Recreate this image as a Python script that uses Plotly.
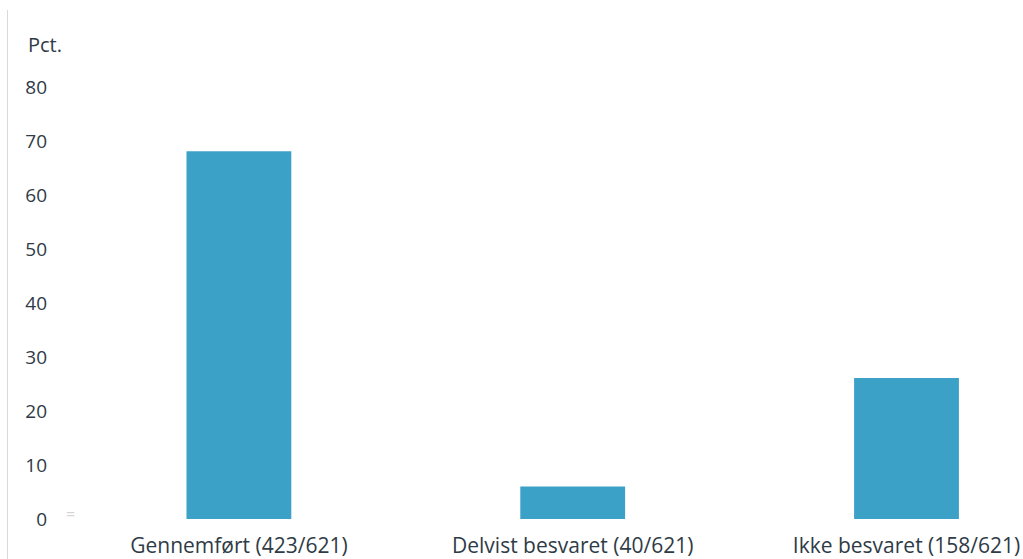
import plotly.graph_objects as go

categories = ["Gennemført (423/621)", "Delvist besvaret (40/621)", "Ikke besvaret (158/621)"]
values = [68.1, 6.0, 26.1]
y_ticks = [0, 10, 20, 30, 40, 50, 60, 70, 80]

font_family = "Open Sans, Lato, sans-serif"
text_color = "#2f3b46"

fig = go.Figure(go.Bar(
    x=list(range(len(categories))),
    y=values,
    width=0.314,
    marker=dict(color="#3BA1C7", line=dict(width=0)),
    hoverinfo="skip",
))

W, H = 1023, 559
ml, mr, mt, mb = 72, 0, 87, 40
fig.update_layout(
    width=W, height=H,
    margin=dict(l=ml, r=mr, t=mt, b=mb, pad=0, autoexpand=False),
    paper_bgcolor="white", plot_bgcolor="white",
    showlegend=False,
    font=dict(family=font_family, size=19, color=text_color),
    xaxis=dict(
        range=[-0.5, 2.349],
        tickmode="array",
        tickvals=list(range(len(categories))),
        ticktext=categories,
        showgrid=False, zeroline=False, showline=False,
        ticks="", ticklabelstandoff=12, automargin=False,
        tickfont=dict(size=21, color=text_color),
    ),
    yaxis=dict(
        range=[0, 80],
        tickmode="array",
        tickvals=y_ticks,
        showgrid=False, zeroline=False, showline=False,
        ticks="", ticklabelstandoff=24, automargin=False,
        tickfont=dict(size=19, color=text_color),
    ),
)

plot_h = H - mt - mb
plot_w = W - ml - mr

def px_to_paper_x(px):
    return (px - ml) / plot_w

def px_to_paper_y(py):
    return (H - mb - py) / plot_h

fig.add_annotation(
    text="Pct.", xref="paper", yref="paper",
    x=px_to_paper_x(26), y=px_to_paper_y(45),
    xanchor="left", yanchor="middle", showarrow=False,
    font=dict(size=20, color=text_color, family=font_family),
)
fig.add_annotation(
    text="=", xref="paper", yref="paper",
    x=px_to_paper_x(70), y=px_to_paper_y(514),
    xanchor="center", yanchor="middle", showarrow=False,
    font=dict(size=16, color="#d6d6d6", family=font_family),
)
fig.add_shape(
    type="line", xref="paper", yref="paper",
    x0=px_to_paper_x(7.5), x1=px_to_paper_x(7.5),
    y0=px_to_paper_y(10), y1=px_to_paper_y(560),
    line=dict(color="#d9d9d9", width=1),
)

fig.write_html(
    "out.html",
    config={"displayModeBar": False},
    post_script="document.body.style.margin='0';document.body.style.overflow='hidden';",
)
